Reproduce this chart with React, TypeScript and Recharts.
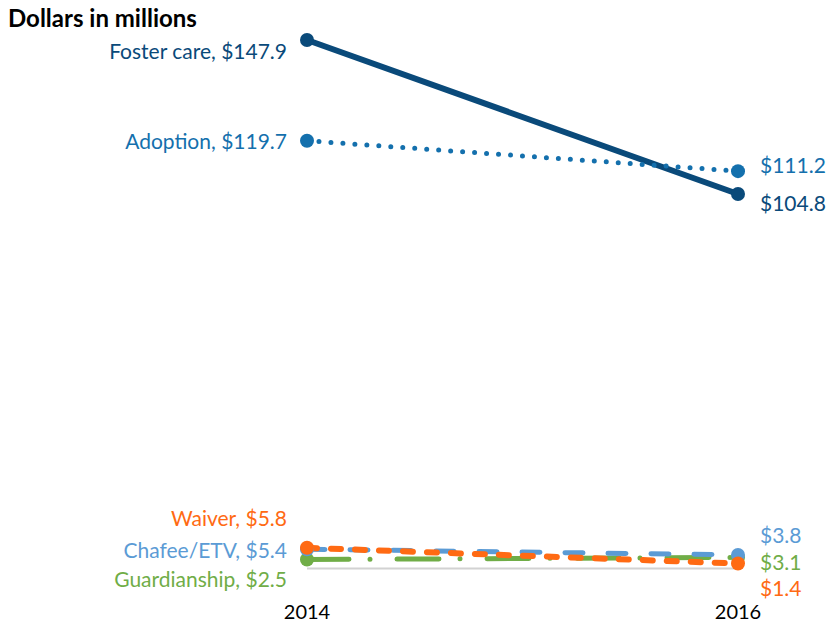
import React from "react"
import { LineChart, Line, XAxis, YAxis, LabelList } from "recharts"

// Spending by program, dollars in millions
const years = [2014, 2016]
const fosterCare = [147.9, 104.8]
const adoption = [119.7, 111.2]
const guardianship = [2.5, 3.1]
const chafeeEtv = [5.4, 3.8]
const waiver = [5.8, 1.4]

const data = years.map((year, i) => ({
  year,
  fosterCare: fosterCare[i],
  adoption: adoption[i],
  guardianship: guardianship[i],
  chafeeEtv: chafeeEtv[i],
  waiver: waiver[i],
}))

const FONT = "Lato, 'Open Sans', sans-serif"

interface SeriesStyle {
  key: string
  name: string
  color: string
  width: number
  dash?: string
  // label offsets [left point, right point]
  dy: [number, number]
}

const series: SeriesStyle[] = [
  { key: "fosterCare", name: "Foster care", color: "#0a4a7a", width: 6, dy: [10, 8] },
  { key: "adoption", name: "Adoption", color: "#1470ad", width: 5, dash: "0 12", dy: [0, -7] },
  { key: "guardianship", name: "Guardianship", color: "#70ad47", width: 5, dash: "42 21 0 27", dy: [19, 4] },
  { key: "chafeeEtv", name: "Chafee/ETV", color: "#5b9bd5", width: 5, dash: "18 25", dy: [0, -20] },
  { key: "waiver", name: "Waiver", color: "#ff6a13", width: 6, dash: "10 14", dy: [-30, 24] },
]

const makeLabel = (s: SeriesStyle) => (props: any) => {
  const { x, y, index, value } = props
  const first = index === 0
  const text = first ? `${s.name}, $${Number(value).toFixed(1)}` : `$${Number(value).toFixed(1)}`
  return (
    <text
      x={first ? x - 20 : x + 22}
      y={y + s.dy[index]}
      textAnchor={first ? "end" : "start"}
      dominantBaseline="central"
      fill={s.color}
      fontSize={21}
      fontFamily={FONT}
    >
      {text}
    </text>
  )
}

const App = () => {
  return (
    <div style={{ position: "absolute", left: 0, top: 0, width: 829, height: 625, background: "#fff" }}>
      <div
        style={{
          position: "absolute",
          left: 8,
          top: 4,
          fontFamily: FONT,
          fontWeight: 700,
          fontSize: 24,
          color: "#000",
          lineHeight: "28px",
        }}
      >
        Dollars in millions
      </div>
      <LineChart
        width={829}
        height={625}
        data={data}
        margin={{ top: 32.5, right: 91, bottom: 16.5, left: 307 }}
      >
        <XAxis
          dataKey="year"
          type="number"
          domain={[2014, 2016]}
          ticks={years}
          height={40}
          axisLine={{ stroke: "#d2d2d2", strokeWidth: 2 }}
          tickLine={false}
          tickMargin={30}
          tick={{ fill: "#000", fontSize: 20, fontFamily: FONT }}
        />
        <YAxis hide domain={[0, 150]} />
        {series.map((s) => (
          <Line
            key={s.key}
            dataKey={s.key}
            type="linear"
            stroke={s.color}
            strokeWidth={s.width}
            strokeDasharray={s.dash}
            strokeLinecap="round"
            dot={{ r: 7, fill: s.color, stroke: "none", strokeWidth: 0 }}
            isAnimationActive={false}
          >
            <LabelList dataKey={s.key} content={makeLabel(s)} />
          </Line>
        ))}
      </LineChart>
    </div>
  )
}

export default App
